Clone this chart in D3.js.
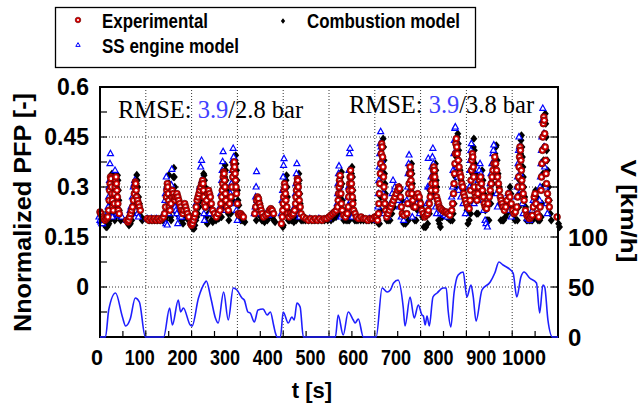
<!DOCTYPE html>
<html>
<head>
<meta charset="utf-8">
<script src="https://cdn.jsdelivr.net/npm/d3@7"></script>
<style>
body { margin: 0; background: #fff; }
svg { display: block; }
</style>
</head>
<body>
<svg id="chart" width="641" height="410"></svg>
<script>
// Measured PFP, [t in s, normalized PFP]
var experimental = [
  [0,0.225],[2,0.22],[5,0.21],[8,0.205],[11,0.2],[14,0.205],[17,0.21],
  [19,0.23],[20,0.26],[21,0.29],[22,0.31],[23,0.33],[24,0.325],[25,0.3],[26,0.28],[27,0.26],[28,0.24],[29,0.23],
  [31,0.25],[32,0.28],[33,0.3],[34,0.32],[35,0.33],[36,0.31],[37,0.29],[38,0.27],[39,0.25],[40,0.23],[42,0.22],
  [58,0.2],[61,0.195],[63,0.2],[65,0.21],[67,0.22],[69,0.23],[71,0.24],[73,0.26],[75,0.28],[76,0.3],[77,0.315],[78,0.31],[79,0.29],[80,0.27],[82,0.26],[84,0.25],[86,0.24],[88,0.23],
  [103,0.205],[107,0.2],[111,0.205],[115,0.2],[119,0.205],[123,0.2],[127,0.205],[131,0.2],[135,0.205],[139,0.21],
  [141,0.22],[143,0.24],[145,0.27],[146,0.29],[147,0.31],[148,0.3],[149,0.28],[150,0.26],[151,0.24],
  [153,0.23],[155,0.25],[157,0.27],[158,0.29],[160,0.28],[162,0.27],[164,0.26],[166,0.27],[168,0.28],[170,0.27],[172,0.26],[174,0.25],[176,0.24],[178,0.23],
  [181,0.22],[183,0.23],[185,0.25],[187,0.24],[189,0.23],[191,0.22],[194,0.21],
  [198,0.19],[200,0.185],[202,0.19],[204,0.2],[206,0.21],[208,0.22],[210,0.24],[212,0.26],[214,0.27],[216,0.28],[218,0.29],[220,0.3],[222,0.31],[224,0.32],[225,0.31],[226,0.29],[227,0.27],[228,0.25],[230,0.24],
  [233,0.26],[235,0.28],[237,0.29],[239,0.28],[241,0.27],[243,0.25],[246,0.23],[250,0.22],[254,0.21],[258,0.22],
  [262,0.23],[264,0.25],[266,0.27],[267,0.29],[268,0.31],[269,0.33],[270,0.345],[271,0.34],[272,0.32],[273,0.3],[274,0.28],[275,0.26],[277,0.24],
  [280,0.23],[283,0.25],
  [286,0.27],[288,0.3],[290,0.33],[291,0.35],[292,0.37],[293,0.375],[294,0.36],[295,0.34],[296,0.32],[297,0.3],[298,0.28],[300,0.25],[302,0.22],
  [304,0.215],[307,0.22],[310,0.215],[313,0.21],
  [338,0.22],[340,0.24],[342,0.26],[344,0.27],[346,0.265],[348,0.25],[350,0.24],[352,0.23],[354,0.22],[357,0.21],
  [362,0.215],[366,0.22],[370,0.23],[373,0.235],[376,0.23],[379,0.22],
  [396,0.19],[398,0.21],[399,0.23],[400,0.25],[401,0.27],[402,0.29],[403,0.31],[404,0.3],[405,0.28],[406,0.26],[408,0.24],[410,0.22],
  [413,0.21],[416,0.22],[419,0.215],[422,0.22],
  [425,0.23],[427,0.25],[428,0.27],[429,0.29],[430,0.31],[431,0.325],[432,0.32],[433,0.3],[434,0.28],[435,0.26],[437,0.24],[439,0.22],
  [444,0.21],[450,0.205],[455,0.2],[460,0.205],[465,0.2],[470,0.205],[475,0.2],[480,0.205],[485,0.2],[490,0.205],[495,0.205],[500,0.21],
  [504,0.215],[508,0.22],[512,0.225],[516,0.23],[519,0.24],
  [520,0.26],[521,0.28],[522,0.3],[523,0.32],[524,0.335],[525,0.31],[526,0.28],[527,0.25],[529,0.23],
  [532,0.215],[536,0.21],[540,0.22],
  [542,0.24],[543,0.27],[544,0.29],[545,0.31],[546,0.33],[547,0.35],[548,0.33],[549,0.31],[550,0.29],[551,0.27],[552,0.25],[554,0.23],[557,0.22],
  [560,0.21],[565,0.205],[570,0.21],[575,0.205],[580,0.205],[585,0.2],[590,0.205],[595,0.205],[600,0.21],[604,0.21],
  [606,0.2],[608,0.22],[609,0.25],[610,0.28],[611,0.31],[612,0.34],[613,0.37],[614,0.4],[615,0.43],[616,0.42],[617,0.39],[618,0.36],[619,0.33],[620,0.3],[621,0.27],[622,0.25],[624,0.23],
  [626,0.21],[629,0.22],[632,0.23],[635,0.24],[638,0.25],[641,0.26],[644,0.27],[647,0.28],[650,0.29],[652,0.3],[654,0.295],[656,0.27],[658,0.24],[660,0.22],[664,0.215],
  [670,0.22],[672,0.25],[674,0.28],[675,0.31],[676,0.34],[677,0.36],[678,0.34],[679,0.32],[680,0.3],[681,0.28],[683,0.26],[685,0.24],
  [688,0.24],[691,0.27],[694,0.28],[697,0.27],[700,0.25],[703,0.23],[706,0.22],[709,0.21],[712,0.215],[715,0.22],
  [717,0.23],[719,0.25],[721,0.27],[723,0.29],[725,0.31],[727,0.33],[728,0.35],[729,0.36],[730,0.35],[731,0.33],[732,0.31],[733,0.29],[735,0.27],[737,0.26],[739,0.25],[741,0.24],
  [744,0.235],[748,0.23],[752,0.225],[756,0.225],[760,0.22],[764,0.215],
  [768,0.23],[770,0.25],[772,0.28],[773,0.31],[774,0.34],[775,0.37],[776,0.4],[777,0.43],[778,0.445],[779,0.42],[780,0.4],[782,0.38],[784,0.36],[786,0.34],
  [788,0.33],[790,0.31],[792,0.3],[794,0.28],[796,0.27],[798,0.26],[800,0.25],[803,0.24],[806,0.235],
  [808,0.26],[809,0.29],[810,0.32],[811,0.35],[812,0.38],[813,0.4],[814,0.39],[815,0.36],[816,0.33],[817,0.3],[819,0.28],
  [821,0.27],[823,0.26],[825,0.28],[827,0.3],[829,0.32],[831,0.33],[833,0.31],[835,0.29],[837,0.27],[839,0.25],[841,0.24],[844,0.235],[847,0.25],[850,0.27],
  [852,0.29],[854,0.31],[856,0.33],[858,0.35],[860,0.37],[862,0.39],[864,0.37],[866,0.35],[868,0.33],[870,0.31],[872,0.29],[874,0.27],[876,0.26],
  [878,0.25],[880,0.24],[883,0.23],[886,0.24],[889,0.26],[892,0.28],[895,0.27],[898,0.25],[901,0.23],[904,0.22],[907,0.225],[910,0.24],
  [912,0.27],[913,0.3],[914,0.33],[915,0.36],[916,0.39],[917,0.42],[918,0.41],[919,0.38],[920,0.35],[921,0.32],[922,0.3],[924,0.28],[926,0.26],
  [929,0.23],[932,0.215],[935,0.21],[938,0.205],[941,0.21],[944,0.215],[946,0.24],[948,0.27],[950,0.28],[952,0.25],[955,0.22],[958,0.21],
  [961,0.24],[963,0.29],[964,0.33],[965,0.37],[966,0.41],[967,0.45],[968,0.49],[969,0.51],[970,0.5],[971,0.46],[972,0.42],[973,0.38],[974,0.34],[975,0.31],[977,0.28],[979,0.26],[981,0.24],
  [998,0.21]
];

// Combustion model PFP
var combustion = [
  [0,0.205],[2,0.2],[4,0.195],[6,0.19],[8,0.185],[10,0.18],[12,0.18],[14,0.185],[16,0.19],[18,0.2],
  [19,0.22],[20,0.25],[21,0.28],[22,0.31],[23,0.34],[24,0.335],[25,0.31],[26,0.28],[27,0.25],[28,0.22],[29,0.2],[30,0.21],
  [31,0.24],[32,0.27],[33,0.3],[34,0.32],[35,0.335],[36,0.32],[37,0.29],[38,0.26],[39,0.23],[40,0.21],[42,0.2],[44,0.205],
  [58,0.19],[60,0.185],[63,0.19],[66,0.2],[69,0.22],[72,0.25],[74,0.28],[76,0.31],[77,0.336],[78,0.32],[79,0.3],[81,0.27],[83,0.25],[85,0.23],[87,0.21],[89,0.2],
  [104,0.2],[110,0.2],[116,0.2],[122,0.2],[128,0.2],[134,0.2],[139,0.2],
  [141,0.21],[143,0.24],[145,0.28],[146,0.31],[147,0.336],[148,0.31],[149,0.28],[150,0.24],[151,0.21],[152,0.2],
  [155,0.26],[157,0.33],[158,0.357],[159,0.33],[160,0.3],[162,0.26],[164,0.22],[166,0.24],[168,0.26],[170,0.25],[172,0.23],[175,0.2],[178,0.19],
  [182,0.21],[185,0.23],[188,0.22],[190,0.2],[195,0.19],
  [198,0.18],[200,0.175],[202,0.175],[204,0.185],[206,0.2],[208,0.21],[210,0.22],[213,0.24],[216,0.26],[218,0.28],[220,0.3],[222,0.32],[223,0.34],[224,0.335],[225,0.32],[226,0.3],[227,0.27],[228,0.24],[229,0.21],[231,0.19],
  [233,0.22],[235,0.25],[237,0.24],[238,0.22],[240,0.2],[243,0.195],[250,0.2],[256,0.205],
  [262,0.21],[264,0.24],[266,0.27],[268,0.3],[269,0.33],[270,0.366],[271,0.35],[272,0.32],[273,0.29],[275,0.25],[277,0.22],[278,0.2],[282,0.22],
  [286,0.26],[288,0.3],[290,0.34],[291,0.36],[292,0.38],[293,0.395],[294,0.37],[295,0.35],[296,0.32],[297,0.29],[298,0.26],[300,0.245],[302,0.22],[304,0.2],[307,0.2],[310,0.2],[313,0.195],
  [338,0.2],[340,0.22],[342,0.24],[344,0.26],[346,0.25],[348,0.21],[350,0.2],[352,0.2],[356,0.195],
  [362,0.2],[366,0.21],[370,0.22],[373,0.21],[376,0.2],[379,0.195],
  [396,0.18],[397,0.185],[399,0.22],[400,0.24],[401,0.27],[402,0.3],[403,0.32],[404,0.335],[405,0.3],[406,0.27],[407,0.23],[408,0.2],[411,0.2],[415,0.2],[420,0.195],
  [425,0.2],[426,0.21],[428,0.25],[429,0.28],[430,0.31],[431,0.34],[432,0.32],[433,0.28],[434,0.25],[435,0.22],[436,0.2],[440,0.2],
  [445,0.2],[452,0.2],[459,0.2],[466,0.2],[473,0.2],[480,0.2],[487,0.2],[494,0.2],[501,0.2],[506,0.205],[512,0.21],[518,0.215],
  [519,0.22],[520,0.24],[521,0.27],[522,0.3],[523,0.33],[524,0.345],[525,0.31],[526,0.26],[527,0.23],[529,0.2],[534,0.2],[538,0.2],
  [541,0.2],[542,0.22],[543,0.25],[544,0.28],[545,0.31],[546,0.34],[547,0.36],[548,0.33],[549,0.29],[550,0.26],[551,0.23],[553,0.2],[556,0.2],
  [560,0.2],[566,0.2],[572,0.2],[578,0.2],[584,0.2],[590,0.2],[596,0.2],[603,0.2],
  [605,0.19],[607,0.19],[609,0.23],[610,0.27],[611,0.31],[612,0.35],[613,0.38],[614,0.42],[615,0.445],[616,0.42],[617,0.38],[618,0.34],[619,0.31],[620,0.28],[621,0.25],[622,0.22],[623,0.2],
  [626,0.2],[630,0.2],[634,0.22],[638,0.24],[642,0.26],[646,0.28],[650,0.3],[653,0.29],[656,0.26],[658,0.22],[660,0.19],[664,0.19],
  [670,0.2],[672,0.25],[674,0.29],[675,0.32],[676,0.35],[677,0.37],[678,0.34],[679,0.31],[680,0.28],[682,0.24],[684,0.2],[687,0.2],
  [690,0.23],[692,0.26],[695,0.26],[698,0.24],[701,0.21],[704,0.18],[708,0.18],[712,0.19],
  [716,0.22],[717,0.29],[719,0.28],[720,0.27],[722,0.28],[724,0.3],[725,0.32],[727,0.34],[729,0.37],[730,0.35],[731,0.32],[732,0.3],[734,0.25],[736,0.2],[738,0.19],[740,0.18],
  [744,0.21],[746,0.22],[750,0.215],[754,0.21],[758,0.205],[762,0.2],[766,0.2],
  [768,0.22],[770,0.25],[772,0.3],[773,0.33],[774,0.36],[775,0.39],[776,0.42],[777,0.45],[778,0.46],[779,0.43],[780,0.41],[781,0.38],[783,0.35],[785,0.32],[788,0.3],[790,0.29],[793,0.27],[795,0.26],[798,0.23],[800,0.19],[803,0.2],[806,0.22],
  [808,0.26],[809,0.3],[810,0.34],[811,0.38],[812,0.42],[813,0.445],[814,0.41],[815,0.37],[816,0.34],[817,0.3],[818,0.26],[819,0.22],
  [822,0.22],[825,0.28],[828,0.32],[831,0.35],[833,0.32],[835,0.28],[838,0.23],[840,0.2],[843,0.2],[846,0.2],
  [850,0.25],[852,0.28],[854,0.31],[855,0.33],[857,0.37],[859,0.4],[861,0.42],[862,0.425],[864,0.38],[866,0.34],[868,0.3],[870,0.25],[872,0.2],[875,0.2],[878,0.2],
  [882,0.21],[885,0.22],[888,0.25],[890,0.28],[892,0.3],[894,0.28],[897,0.24],[900,0.21],[903,0.2],[908,0.2],
  [911,0.24],[912,0.28],[913,0.32],[914,0.36],[915,0.4],[916,0.44],[917,0.455],[918,0.42],[919,0.39],[920,0.36],[921,0.33],[922,0.3],[924,0.27],[926,0.24],[928,0.2],
  [931,0.2],[935,0.2],[938,0.2],[941,0.2],[944,0.21],[946,0.25],[948,0.29],[950,0.27],[953,0.2],[957,0.2],
  [960,0.21],[962,0.25],[963,0.3],[964,0.34],[965,0.38],[966,0.42],[967,0.46],[968,0.5],[969,0.52],[970,0.49],[971,0.45],[972,0.41],[973,0.38],[974,0.35],[976,0.3],[978,0.26],[980,0.22],[982,0.2],
  [998,0.19],[1000,0.18]
];

// SS engine model PFP
var ssEngine = [
  [0,0.21],[2,0.2],[4,0.195],[6,0.19],[8,0.19],[10,0.2],[12,0.205],[14,0.21],[17,0.215],
  [19,0.22],[20,0.24],[21,0.27],[22,0.3],[23,0.32],[24,0.37],[25,0.4],[26,0.31],[27,0.27],[28,0.24],[29,0.21],
  [31,0.23],[32,0.26],[33,0.29],[34,0.32],[35,0.35],[36,0.33],[37,0.3],[38,0.26],[39,0.23],[40,0.22],[43,0.215],[46,0.215],[50,0.21],
  [60,0.2],[64,0.21],[68,0.23],[70,0.24],[73,0.27],[75,0.3],[77,0.31],[78,0.32],[80,0.28],[82,0.24],[84,0.22],[86,0.21],
  [105,0.205],[115,0.205],[125,0.205],[135,0.205],
  [142,0.22],[144,0.26],[145,0.28],[146,0.19],[147,0.33],[148,0.3],[149,0.186],[150,0.25],[152,0.22],
  [156,0.27],[158,0.306],[159,0.353],[161,0.28],[163,0.25],[166,0.24],[168,0.23],[170,0.22],[172,0.19],[176,0.21],[180,0.21],[186,0.22],
  [204,0.19],[208,0.21],[212,0.25],[216,0.27],[220,0.3],[222,0.36],[224,0.38],[225,0.32],[227,0.27],[229,0.22],[230,0.2],
  [234,0.24],[236,0.26],[239,0.25],[242,0.22],
  [264,0.24],[266,0.28],[268,0.32],[269,0.35],[270,0.376],[271,0.406],[272,0.33],[274,0.26],[276,0.23],
  [287,0.28],[289,0.31],[291,0.35],[292,0.38],[293,0.416],[294,0.39],[295,0.37],[297,0.3],[298,0.25],[300,0.23],[302,0.2],
  [339,0.22],[341,0.24],[342,0.27],[343,0.3],[344,0.346],[345,0.26],[347,0.23],[350,0.22],
  [365,0.22],[370,0.215],[375,0.22],
  [398,0.22],[400,0.26],[401,0.29],[402,0.33],[403,0.365],[404,0.385],[405,0.3],[406,0.25],[407,0.22],
  [427,0.24],[429,0.28],[430,0.31],[431,0.34],[432,0.37],[433,0.3],[434,0.25],[436,0.22],[438,0.21],
  [460,0.205],[480,0.205],[500,0.205],
  [520,0.25],[521,0.28],[522,0.31],[523,0.34],[524,0.363],[525,0.3],[526,0.24],[528,0.21],
  [543,0.24],[544,0.27],[545,0.3],[546,0.35],[547,0.4],[548,0.416],[549,0.3],[550,0.26],[551,0.23],[553,0.21],
  [570,0.205],[590,0.205],
  [607,0.2],[609,0.24],[610,0.28],[611,0.32],[612,0.36],[613,0.4],[614,0.43],[615,0.466],[616,0.42],[617,0.38],[618,0.34],[620,0.28],[622,0.22],
  [630,0.21],[636,0.25],[640,0.28],[642,0.32],[646,0.3],[650,0.28],[653,0.26],[656,0.24],[660,0.21],[665,0.2],
  [672,0.26],[674,0.3],[675,0.34],[676,0.37],[677,0.396],[678,0.35],[680,0.29],[682,0.25],[684,0.21],
  [690,0.24],[694,0.25],[700,0.22],
  [716,0.25],[718,0.3],[719,0.386],[721,0.3],[723,0.3],[725,0.33],[727,0.36],[728,0.39],[729,0.416],[730,0.37],[731,0.33],[733,0.27],[735,0.24],[737,0.22],
  [745,0.22],[750,0.22],[755,0.215],[760,0.21],
  [770,0.27],[772,0.3],[773,0.35],[775,0.4],[776,0.44],[777,0.476],[778,0.48],[779,0.44],[781,0.36],[783,0.33],[785,0.29],[790,0.27],[795,0.25],[800,0.22],
  [809,0.3],[810,0.35],[811,0.38],[812,0.41],[813,0.43],[814,0.39],[815,0.35],[817,0.29],[819,0.25],
  [825,0.28],[828,0.32],[830,0.35],[832,0.37],[834,0.34],[836,0.3],[838,0.26],[840,0.23],[843,0.2],[845,0.19],[848,0.18],
  [854,0.31],[856,0.34],[858,0.37],[860,0.4],[861,0.41],[862,0.426],[864,0.38],[866,0.33],[868,0.28],[870,0.24],
  [886,0.24],[890,0.26],[893,0.28],[896,0.23],[900,0.21],
  [912,0.27],[913,0.3],[914,0.33],[915,0.37],[916,0.41],[917,0.45],[918,0.42],[920,0.34],[922,0.29],[924,0.25],[926,0.22],
  [935,0.205],[940,0.2],[946,0.23],[948,0.26],[950,0.25],
  [962,0.26],[963,0.3],[964,0.33],[965,0.37],[966,0.41],[967,0.45],[968,0.5],[969,0.536],[970,0.5],[971,0.46],[972,0.42],[973,0.36],[975,0.3],[977,0.25],[979,0.22]
];

// Vehicle speed, [t in s, km/h]
var speed = [
  [0,0],[12,0],[19,27],[34,44],[49,20],[56,11],[66,18],[77,39],[86,35],[99,0],
  [139,0],[152,29],[158,12],[171,37],[176,25],[182,29],[197,12],[201,11],[215,39],[230,55],[232,56],
  [242,39],[252,19],[258,14],[270,45],[280,17],[291,49],[299,47],[310,39],[315,37],[323,25],[328,24],
  [337,15],[345,27],[356,28],[365,22],[372,25],[379,12],[383,4],[387,0],[394,0],[400,25],[411,14],
  [419,20],[424,17],[430,34],[437,30],[444,0],[514,0],[520,22],[531,2],[542,25],[553,17],[557,14],
  [564,18],[575,0],[603,0],[616,49],[627,45],[634,47],[641,54],[651,57],[662,30],[666,11],[677,40],
  [686,19],[695,32],[703,22],[706,21],[710,12],[714,21],[719,11],[727,40],[736,44],[749,49],[756,49],
  [760,27],[766,10],[773,44],[782,62],[793,65],[801,40],[810,52],[815,40],[821,16],[834,47],[852,55],
  [862,64],[871,75],[880,72],[891,69],[902,64],[910,40],[919,60],[926,65],[938,59],[953,54],[960,24],
  [967,52],[971,50],[978,17],[988,0],[1000,0]
];

var xTicks = [0, 100, 200, 300, 400, 500, 600, 700, 800, 900, 1000];
var yTicks = [0, 0.15, 0.3, 0.45, 0.6];
var yTickLabels = ["0", "0.15", "0.3", "0.45", "0.6"];
var vTicks = [0, 50, 100];
var rmseLeft = ["RMSE: ", "3.9", "/2.8 bar"];
var rmseRight = ["RMSE: ", "3.9", "/3.8 bar"];

var svg = d3.select("#chart");
var sans = "'Liberation Sans', Arial, sans-serif";

var x = d3.scaleLinear().domain([0, 1000]).range([100, 558]);
var y = d3.scaleLinear().domain([-0.15, 0.6]).range([337, 87]);
var yV = d3.scaleLinear().domain([0, 250]).range([337, 87]);
// tick labels of the original sit a little tighter than the ticks
var xLabel = d3.scaleLinear().domain([0, 1000]).range([97, 524]);

// dotted grid
var grid = svg.append("g").attr("stroke", "#000").attr("stroke-width", 0.8).attr("stroke-dasharray", "1,2");
grid.selectAll("line.h").data([0, 0.15, 0.3, 0.45]).enter().append("line")
    .attr("x1", x(0)).attr("x2", x(1000))
    .attr("y1", function (d) { return y(d); }).attr("y2", function (d) { return y(d); });
grid.selectAll("line.v").data(d3.range(100, 1000, 100)).enter().append("line")
    .attr("y1", y(-0.15)).attr("y2", y(0.6))
    .attr("x1", function (d) { return x(d); }).attr("x2", function (d) { return x(d); });

// inward ticks, drawn as small filled bars
var tickG = svg.append("g").attr("fill", "#000");
tickG.selectAll("rect.l").data(d3.range(-0.075, 0.6, 0.075)).enter().append("rect")
    .attr("x", x(0)).attr("y", function (d) { return y(d) - 0.6; }).attr("width", 7).attr("height", 1.2);
tickG.selectAll("rect.r").data([50, 100, 150, 200]).enter().append("rect")
    .attr("x", x(1000) - 7).attr("y", function (d) { return yV(d) - 0.6; }).attr("width", 7).attr("height", 1.2);
tickG.selectAll("rect.b").data(d3.range(50, 1000, 50)).enter().append("rect")
    .attr("x", function (d) { return x(d) - 0.6; }).attr("y", y(-0.15) - 6).attr("width", 1.2).attr("height", 6);

var diamond = "M0,-4.2L3.5,0L0,4.2L-3.5,0Z";
var triangle = "M0,-3.4L3,2L-3,2Z";

svg.append("g").selectAll("path").data(combustion).enter().append("path")
    .attr("d", diamond)
    .attr("transform", function (d) { return "translate(" + (x(d[0]) + 1.5) + "," + y(d[1]) + ")"; })
    .attr("fill", "#000");

svg.append("g").selectAll("path").data(ssEngine).enter().append("path")
    .attr("d", triangle)
    .attr("transform", function (d) { return "translate(" + (x(d[0]) - 1) + "," + y(d[1]) + ")"; })
    .attr("fill", "#fff").attr("stroke", "#0000ff").attr("stroke-width", 1.2);

// red marker with a white centre, drawn as two circles
var exp = svg.append("g").selectAll("g").data(experimental).enter().append("g")
    .attr("transform", function (d) { return "translate(" + x(d[0]) + "," + y(d[1]) + ")"; });
exp.append("circle").attr("r", 3.4).attr("fill", "#d80000").attr("stroke", "#600000").attr("stroke-width", 0.7);
exp.append("circle").attr("r", 1.4).attr("fill", "#fff");

// plot frame as four filled bars
var x0 = x(0), x1 = x(1000), yTop = y(0.6), yBot = y(-0.15), fw = 2;
var frameBars = [
  [x0 - fw / 2, yTop - fw / 2, x1 - x0 + fw, fw],
  [x0 - fw / 2, yBot - fw / 2, x1 - x0 + fw, fw],
  [x0 - fw / 2, yTop - fw / 2, fw, yBot - yTop + fw],
  [x1 - fw / 2, yTop - fw / 2, fw, yBot - yTop + fw]
];
svg.append("g").selectAll("rect").data(frameBars).enter().append("rect")
    .attr("x", function (d) { return d[0]; }).attr("y", function (d) { return d[1]; })
    .attr("width", function (d) { return d[2]; }).attr("height", function (d) { return d[3]; })
    .attr("fill", "#000");

// speed line on top of the frame
svg.append("path")
    .datum(speed)
    .attr("fill", "none")
    .attr("stroke", "#1f1fff")
    .attr("stroke-width", 1.6)
    .attr("d", d3.line()
        .x(function (d) { return x(d[0]); })
        .y(function (d) { return yV(d[1]); })
        .curve(d3.curveMonotoneX));

// tick labels
svg.append("g").selectAll("text").data(xTicks).enter().append("text")
    .attr("x", function (d) { return xLabel(d); })
    .attr("y", 365)
    .attr("text-anchor", "middle")
    .attr("textLength", function (d) { return String(d).length === 1 ? 12 : (String(d).length === 3 ? 30 : 44); })
    .attr("lengthAdjust", "spacingAndGlyphs")
    .style("font", "bold 22px " + sans)
    .text(function (d) { return d; });

svg.append("g").selectAll("text").data(yTicks).enter().append("text")
    .attr("x", 89)
    .attr("y", function (d) { return y(d); })
    .attr("dy", "0.36em")
    .attr("text-anchor", "end")
    .style("font", "bold 23px " + sans)
    .text(function (d, i) { return yTickLabels[i]; });

svg.append("g").selectAll("text").data(vTicks).enter().append("text")
    .attr("x", 568)
    .attr("y", function (d) { return yV(d); })
    .attr("dy", "0.36em")
    .style("font", "bold 24px " + sans)
    .text(function (d) { return d; });

// axis titles
svg.append("text")
    .attr("transform", "translate(31,212.5) rotate(-90)")
    .attr("text-anchor", "middle")
    .attr("textLength", 239).attr("lengthAdjust", "spacingAndGlyphs")
    .style("font", "bold 24px " + sans)
    .text("Nnormalized PFP [-]");

svg.append("text")
    .attr("transform", "translate(621,211) rotate(90)")
    .attr("text-anchor", "middle")
    .attr("textLength", 103).attr("lengthAdjust", "spacingAndGlyphs")
    .style("font", "bold 22px " + sans)
    .text("V [km/h]");

svg.append("text")
    .attr("x", 312).attr("y", 398)
    .attr("text-anchor", "middle")
    .style("font", "bold 22px " + sans)
    .text("t [s]");

// RMSE notes
function rmse(parts, px, py) {
    var t = svg.append("text").attr("x", px).attr("y", py)
        .style("font", "24.5px 'Liberation Serif', 'Times New Roman', serif");
    parts.forEach(function (p, i) {
        t.append("tspan").attr("fill", i === 1 ? "#4040ff" : "#000").text(p);
    });
}
rmse(rmseLeft, 118, 118);
rmse(rmseRight, 349, 113);

// legend
var lg = svg.append("g");
lg.append("rect").attr("x", 55.5).attr("y", 7.5).attr("width", 420).attr("height", 60)
    .attr("fill", "#fff").attr("stroke", "#000").attr("stroke-width", 1.3);
lg.append("circle").attr("cx", 78).attr("cy", 20).attr("r", 2.8).attr("fill", "#d80000").attr("stroke", "#600000").attr("stroke-width", 0.6);
lg.append("circle").attr("cx", 78).attr("cy", 20).attr("r", 1.1).attr("fill", "#fff");
lg.append("path").attr("d", "M0,-2.8L2.2,0L0,2.8L-2.2,0Z").attr("transform", "translate(283,21)").attr("fill", "#000");
lg.append("path").attr("d", "M0,-2.4L2.2,1.4L-2.2,1.4Z").attr("transform", "translate(78,45)")
    .attr("fill", "#fff").attr("stroke", "#0000ff").attr("stroke-width", 1);
var legendText = [["Experimental", 102, 28, 106], ["Combustion model", 307, 28, 153], ["SS engine model", 102, 53, 137]];
lg.selectAll("text").data(legendText).enter().append("text")
    .attr("x", function (d) { return d[1]; })
    .attr("y", function (d) { return d[2]; })
    .attr("textLength", function (d) { return d[3]; })
    .attr("lengthAdjust", "spacingAndGlyphs")
    .style("font", "bold 19.5px " + sans)
    .text(function (d) { return d[0]; });
</script>
</body>
</html>
